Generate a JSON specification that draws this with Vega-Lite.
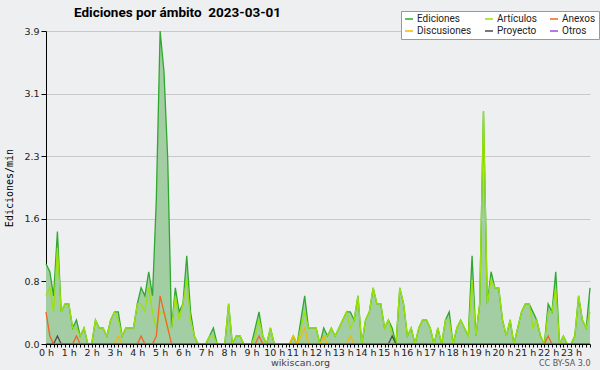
{
"$schema": "https://vega.github.io/schema/vega-lite/v6.json",
"width": 544,
"height": 313,
"autosize": {"type": "none"},
"padding": {"left": 46, "top": 31, "right": 10, "bottom": 26},
"background": "#eeeff0",
"config": {"view": {"stroke": null}, "font": "DejaVu Sans"},
"title": {"text": "Ediciones por ámbito \u00a02023-03-01", "anchor": "start", "frame": "group", "dx": 28, "dy": 19, "font": "Roboto", "fontWeight": "bold", "fontSize": 13.5, "color": "#000", "offset": 10},
"data": {"values": [
{"m":0,"Ediciones":1.0,"Artículos":0.6,"Anexos":0.4,"Discusiones":0,"Proyecto":0,"Otros":0},
{"m":10,"Ediciones":0.9,"Artículos":0.7,"Anexos":0.1,"Discusiones":0,"Proyecto":0,"Otros":0},
{"m":20,"Ediciones":0.6,"Artículos":0.4,"Anexos":0,"Discusiones":0,"Proyecto":0,"Otros":0},
{"m":30,"Ediciones":1.4,"Artículos":1.2,"Anexos":0,"Discusiones":0,"Proyecto":0.1,"Otros":0},
{"m":40,"Ediciones":0.4,"Artículos":0.4,"Anexos":0,"Discusiones":0,"Proyecto":0,"Otros":0},
{"m":50,"Ediciones":0.5,"Artículos":0.5,"Anexos":0,"Discusiones":0,"Proyecto":0,"Otros":0},
{"m":60,"Ediciones":0.5,"Artículos":0.5,"Anexos":0,"Discusiones":0,"Proyecto":0,"Otros":0},
{"m":70,"Ediciones":0.2,"Artículos":0.2,"Anexos":0,"Discusiones":0,"Proyecto":0,"Otros":0},
{"m":80,"Ediciones":0.3,"Artículos":0.2,"Anexos":0.1,"Discusiones":0,"Proyecto":0,"Otros":0},
{"m":90,"Ediciones":0.1,"Artículos":0.1,"Anexos":0,"Discusiones":0,"Proyecto":0,"Otros":0},
{"m":100,"Ediciones":0.2,"Artículos":0.2,"Anexos":0,"Discusiones":0,"Proyecto":0,"Otros":0},
{"m":110,"Ediciones":0,"Artículos":0,"Anexos":0,"Discusiones":0,"Proyecto":0,"Otros":0},
{"m":120,"Ediciones":0,"Artículos":0,"Anexos":0,"Discusiones":0,"Proyecto":0,"Otros":0},
{"m":130,"Ediciones":0.3,"Artículos":0.3,"Anexos":0,"Discusiones":0,"Proyecto":0,"Otros":0},
{"m":140,"Ediciones":0.2,"Artículos":0.2,"Anexos":0,"Discusiones":0,"Proyecto":0,"Otros":0},
{"m":150,"Ediciones":0.2,"Artículos":0.2,"Anexos":0,"Discusiones":0,"Proyecto":0,"Otros":0},
{"m":160,"Ediciones":0.1,"Artículos":0.1,"Anexos":0,"Discusiones":0,"Proyecto":0,"Otros":0},
{"m":170,"Ediciones":0.3,"Artículos":0.3,"Anexos":0,"Discusiones":0,"Proyecto":0,"Otros":0},
{"m":180,"Ediciones":0.4,"Artículos":0.4,"Anexos":0,"Discusiones":0,"Proyecto":0,"Otros":0},
{"m":190,"Ediciones":0.4,"Artículos":0.3,"Anexos":0,"Discusiones":0.1,"Proyecto":0,"Otros":0},
{"m":200,"Ediciones":0.1,"Artículos":0.1,"Anexos":0,"Discusiones":0,"Proyecto":0,"Otros":0},
{"m":210,"Ediciones":0.2,"Artículos":0.2,"Anexos":0,"Discusiones":0,"Proyecto":0,"Otros":0},
{"m":220,"Ediciones":0.2,"Artículos":0.2,"Anexos":0,"Discusiones":0,"Proyecto":0,"Otros":0},
{"m":230,"Ediciones":0.2,"Artículos":0.2,"Anexos":0,"Discusiones":0,"Proyecto":0,"Otros":0},
{"m":240,"Ediciones":0.5,"Artículos":0.5,"Anexos":0,"Discusiones":0,"Proyecto":0,"Otros":0},
{"m":250,"Ediciones":0.7,"Artículos":0.5,"Anexos":0.1,"Discusiones":0,"Proyecto":0,"Otros":0},
{"m":260,"Ediciones":0.6,"Artículos":0.4,"Anexos":0,"Discusiones":0,"Proyecto":0,"Otros":0},
{"m":270,"Ediciones":0.9,"Artículos":0.7,"Anexos":0,"Discusiones":0,"Proyecto":0,"Otros":0},
{"m":280,"Ediciones":0.6,"Artículos":0.4,"Anexos":0,"Discusiones":0,"Proyecto":0,"Otros":0},
{"m":290,"Ediciones":1.8,"Artículos":0.2,"Anexos":0.1,"Discusiones":0,"Proyecto":0,"Otros":0},
{"m":300,"Ediciones":3.9,"Artículos":0.4,"Anexos":0.6,"Discusiones":0,"Proyecto":0,"Otros":0},
{"m":310,"Ediciones":3.4,"Artículos":0.4,"Anexos":0.4,"Discusiones":0,"Proyecto":0,"Otros":0},
{"m":320,"Ediciones":2.3,"Artículos":0.2,"Anexos":0.2,"Discusiones":0,"Proyecto":0,"Otros":0},
{"m":330,"Ediciones":0.2,"Artículos":0.2,"Anexos":0,"Discusiones":0,"Proyecto":0,"Otros":0},
{"m":340,"Ediciones":0.7,"Artículos":0.6,"Anexos":0,"Discusiones":0,"Proyecto":0,"Otros":0},
{"m":350,"Ediciones":0.4,"Artículos":0.3,"Anexos":0,"Discusiones":0,"Proyecto":0,"Otros":0},
{"m":360,"Ediciones":0.5,"Artículos":0.5,"Anexos":0,"Discusiones":0,"Proyecto":0,"Otros":0},
{"m":370,"Ediciones":1.1,"Artículos":0.8,"Anexos":0,"Discusiones":0,"Proyecto":0,"Otros":0},
{"m":380,"Ediciones":0.4,"Artículos":0.3,"Anexos":0,"Discusiones":0,"Proyecto":0,"Otros":0},
{"m":390,"Ediciones":0.1,"Artículos":0.1,"Anexos":0,"Discusiones":0,"Proyecto":0,"Otros":0},
{"m":400,"Ediciones":0,"Artículos":0,"Anexos":0,"Discusiones":0,"Proyecto":0,"Otros":0},
{"m":410,"Ediciones":0,"Artículos":0,"Anexos":0,"Discusiones":0,"Proyecto":0,"Otros":0},
{"m":420,"Ediciones":0,"Artículos":0,"Anexos":0,"Discusiones":0,"Proyecto":0,"Otros":0},
{"m":430,"Ediciones":0.1,"Artículos":0.1,"Anexos":0,"Discusiones":0,"Proyecto":0,"Otros":0},
{"m":440,"Ediciones":0.2,"Artículos":0.1,"Anexos":0,"Discusiones":0,"Proyecto":0,"Otros":0},
{"m":450,"Ediciones":0,"Artículos":0,"Anexos":0,"Discusiones":0,"Proyecto":0,"Otros":0},
{"m":460,"Ediciones":0,"Artículos":0,"Anexos":0,"Discusiones":0,"Proyecto":0,"Otros":0},
{"m":470,"Ediciones":0,"Artículos":0,"Anexos":0,"Discusiones":0,"Proyecto":0,"Otros":0},
{"m":480,"Ediciones":0.5,"Artículos":0.5,"Anexos":0,"Discusiones":0,"Proyecto":0,"Otros":0},
{"m":490,"Ediciones":0,"Artículos":0,"Anexos":0,"Discusiones":0,"Proyecto":0,"Otros":0},
{"m":500,"Ediciones":0.1,"Artículos":0.1,"Anexos":0,"Discusiones":0,"Proyecto":0,"Otros":0},
{"m":510,"Ediciones":0.1,"Artículos":0.1,"Anexos":0,"Discusiones":0,"Proyecto":0,"Otros":0},
{"m":520,"Ediciones":0,"Artículos":0,"Anexos":0,"Discusiones":0,"Proyecto":0,"Otros":0},
{"m":530,"Ediciones":0,"Artículos":0,"Anexos":0,"Discusiones":0,"Proyecto":0,"Otros":0},
{"m":540,"Ediciones":0,"Artículos":0,"Anexos":0,"Discusiones":0,"Proyecto":0,"Otros":0},
{"m":550,"Ediciones":0.2,"Artículos":0.1,"Anexos":0,"Discusiones":0,"Proyecto":0,"Otros":0},
{"m":560,"Ediciones":0.4,"Artículos":0.3,"Anexos":0.1,"Discusiones":0,"Proyecto":0,"Otros":0},
{"m":570,"Ediciones":0.1,"Artículos":0.1,"Anexos":0,"Discusiones":0,"Proyecto":0,"Otros":0},
{"m":580,"Ediciones":0,"Artículos":0,"Anexos":0,"Discusiones":0,"Proyecto":0,"Otros":0},
{"m":590,"Ediciones":0.2,"Artículos":0.2,"Anexos":0,"Discusiones":0,"Proyecto":0,"Otros":0},
{"m":600,"Ediciones":0,"Artículos":0,"Anexos":0,"Discusiones":0,"Proyecto":0,"Otros":0},
{"m":610,"Ediciones":0,"Artículos":0,"Anexos":0,"Discusiones":0,"Proyecto":0,"Otros":0},
{"m":620,"Ediciones":0,"Artículos":0,"Anexos":0,"Discusiones":0,"Proyecto":0,"Otros":0},
{"m":630,"Ediciones":0,"Artículos":0,"Anexos":0,"Discusiones":0,"Proyecto":0,"Otros":0},
{"m":640,"Ediciones":0,"Artículos":0,"Anexos":0,"Discusiones":0,"Proyecto":0,"Otros":0},
{"m":650,"Ediciones":0.1,"Artículos":0.1,"Anexos":0,"Discusiones":0.1,"Proyecto":0,"Otros":0},
{"m":660,"Ediciones":0,"Artículos":0,"Anexos":0,"Discusiones":0,"Proyecto":0,"Otros":0},
{"m":670,"Ediciones":0.3,"Artículos":0.2,"Anexos":0,"Discusiones":0.1,"Proyecto":0,"Otros":0},
{"m":680,"Ediciones":0.6,"Artículos":0.4,"Anexos":0,"Discusiones":0.2,"Proyecto":0,"Otros":0},
{"m":690,"Ediciones":0.2,"Artículos":0.2,"Anexos":0,"Discusiones":0,"Proyecto":0,"Otros":0},
{"m":700,"Ediciones":0.2,"Artículos":0.2,"Anexos":0,"Discusiones":0,"Proyecto":0,"Otros":0},
{"m":710,"Ediciones":0.2,"Artículos":0.2,"Anexos":0,"Discusiones":0,"Proyecto":0,"Otros":0},
{"m":720,"Ediciones":0,"Artículos":0,"Anexos":0,"Discusiones":0,"Proyecto":0,"Otros":0},
{"m":730,"Ediciones":0.2,"Artículos":0.1,"Anexos":0,"Discusiones":0.1,"Proyecto":0,"Otros":0},
{"m":740,"Ediciones":0.1,"Artículos":0.1,"Anexos":0,"Discusiones":0,"Proyecto":0,"Otros":0},
{"m":750,"Ediciones":0.2,"Artículos":0.2,"Anexos":0,"Discusiones":0,"Proyecto":0,"Otros":0},
{"m":760,"Ediciones":0.1,"Artículos":0.1,"Anexos":0,"Discusiones":0,"Proyecto":0,"Otros":0},
{"m":770,"Ediciones":0.2,"Artículos":0.2,"Anexos":0,"Discusiones":0,"Proyecto":0,"Otros":0},
{"m":780,"Ediciones":0.3,"Artículos":0.3,"Anexos":0,"Discusiones":0,"Proyecto":0,"Otros":0},
{"m":790,"Ediciones":0.4,"Artículos":0.4,"Anexos":0,"Discusiones":0,"Proyecto":0,"Otros":0},
{"m":800,"Ediciones":0.4,"Artículos":0.2,"Anexos":0,"Discusiones":0.1,"Proyecto":0,"Otros":0},
{"m":810,"Ediciones":0.3,"Artículos":0.3,"Anexos":0,"Discusiones":0,"Proyecto":0,"Otros":0},
{"m":820,"Ediciones":0.6,"Artículos":0.6,"Anexos":0,"Discusiones":0,"Proyecto":0,"Otros":0},
{"m":830,"Ediciones":0,"Artículos":0,"Anexos":0,"Discusiones":0,"Proyecto":0,"Otros":0},
{"m":840,"Ediciones":0.3,"Artículos":0.3,"Anexos":0,"Discusiones":0,"Proyecto":0,"Otros":0},
{"m":850,"Ediciones":0.4,"Artículos":0.4,"Anexos":0,"Discusiones":0,"Proyecto":0,"Otros":0},
{"m":860,"Ediciones":0.7,"Artículos":0.7,"Anexos":0,"Discusiones":0,"Proyecto":0,"Otros":0},
{"m":870,"Ediciones":0.5,"Artículos":0.5,"Anexos":0,"Discusiones":0,"Proyecto":0,"Otros":0},
{"m":880,"Ediciones":0.5,"Artículos":0.5,"Anexos":0,"Discusiones":0,"Proyecto":0,"Otros":0},
{"m":890,"Ediciones":0.2,"Artículos":0.2,"Anexos":0,"Discusiones":0,"Proyecto":0,"Otros":0},
{"m":900,"Ediciones":0.3,"Artículos":0.3,"Anexos":0,"Discusiones":0,"Proyecto":0,"Otros":0},
{"m":910,"Ediciones":0.2,"Artículos":0.1,"Anexos":0,"Discusiones":0,"Proyecto":0.1,"Otros":0},
{"m":920,"Ediciones":0,"Artículos":0,"Anexos":0,"Discusiones":0,"Proyecto":0,"Otros":0},
{"m":930,"Ediciones":0.7,"Artículos":0.7,"Anexos":0,"Discusiones":0,"Proyecto":0,"Otros":0},
{"m":940,"Ediciones":0.5,"Artículos":0.5,"Anexos":0,"Discusiones":0,"Proyecto":0,"Otros":0},
{"m":950,"Ediciones":0.1,"Artículos":0.1,"Anexos":0,"Discusiones":0,"Proyecto":0,"Otros":0},
{"m":960,"Ediciones":0.2,"Artículos":0.2,"Anexos":0,"Discusiones":0,"Proyecto":0,"Otros":0},
{"m":970,"Ediciones":0,"Artículos":0,"Anexos":0,"Discusiones":0,"Proyecto":0,"Otros":0},
{"m":980,"Ediciones":0.2,"Artículos":0.2,"Anexos":0,"Discusiones":0,"Proyecto":0,"Otros":0},
{"m":990,"Ediciones":0.3,"Artículos":0.3,"Anexos":0,"Discusiones":0,"Proyecto":0,"Otros":0},
{"m":1000,"Ediciones":0.3,"Artículos":0.3,"Anexos":0,"Discusiones":0,"Proyecto":0,"Otros":0},
{"m":1010,"Ediciones":0.2,"Artículos":0.2,"Anexos":0,"Discusiones":0,"Proyecto":0,"Otros":0},
{"m":1020,"Ediciones":0,"Artículos":0,"Anexos":0,"Discusiones":0,"Proyecto":0,"Otros":0},
{"m":1030,"Ediciones":0.2,"Artículos":0.2,"Anexos":0,"Discusiones":0,"Proyecto":0,"Otros":0},
{"m":1040,"Ediciones":0,"Artículos":0,"Anexos":0,"Discusiones":0,"Proyecto":0,"Otros":0},
{"m":1050,"Ediciones":0.3,"Artículos":0.3,"Anexos":0,"Discusiones":0,"Proyecto":0,"Otros":0},
{"m":1060,"Ediciones":0.4,"Artículos":0.3,"Anexos":0,"Discusiones":0,"Proyecto":0,"Otros":0},
{"m":1070,"Ediciones":0,"Artículos":0,"Anexos":0,"Discusiones":0,"Proyecto":0,"Otros":0},
{"m":1080,"Ediciones":0.2,"Artículos":0.2,"Anexos":0,"Discusiones":0,"Proyecto":0,"Otros":0},
{"m":1090,"Ediciones":0.3,"Artículos":0.3,"Anexos":0,"Discusiones":0,"Proyecto":0,"Otros":0},
{"m":1100,"Ediciones":0.2,"Artículos":0.2,"Anexos":0,"Discusiones":0,"Proyecto":0,"Otros":0},
{"m":1110,"Ediciones":0.1,"Artículos":0.1,"Anexos":0,"Discusiones":0,"Proyecto":0,"Otros":0},
{"m":1120,"Ediciones":1.1,"Artículos":0.8,"Anexos":0,"Discusiones":0,"Proyecto":0,"Otros":0},
{"m":1130,"Ediciones":0.1,"Artículos":0.1,"Anexos":0,"Discusiones":0,"Proyecto":0,"Otros":0},
{"m":1140,"Ediciones":0.5,"Artículos":0.5,"Anexos":0,"Discusiones":0,"Proyecto":0,"Otros":0},
{"m":1150,"Ediciones":2.9,"Artículos":2.9,"Anexos":0,"Discusiones":0,"Proyecto":0,"Otros":0},
{"m":1160,"Ediciones":0.5,"Artículos":0.5,"Anexos":0,"Discusiones":0,"Proyecto":0,"Otros":0},
{"m":1170,"Ediciones":0.9,"Artículos":0.8,"Anexos":0,"Discusiones":0,"Proyecto":0,"Otros":0},
{"m":1180,"Ediciones":0.7,"Artículos":0.7,"Anexos":0,"Discusiones":0,"Proyecto":0,"Otros":0},
{"m":1190,"Ediciones":0.7,"Artículos":0.7,"Anexos":0,"Discusiones":0,"Proyecto":0,"Otros":0},
{"m":1200,"Ediciones":0.3,"Artículos":0.3,"Anexos":0,"Discusiones":0,"Proyecto":0,"Otros":0},
{"m":1210,"Ediciones":0.1,"Artículos":0.1,"Anexos":0,"Discusiones":0,"Proyecto":0,"Otros":0},
{"m":1220,"Ediciones":0.3,"Artículos":0.3,"Anexos":0,"Discusiones":0,"Proyecto":0,"Otros":0},
{"m":1230,"Ediciones":0,"Artículos":0,"Anexos":0,"Discusiones":0,"Proyecto":0,"Otros":0},
{"m":1240,"Ediciones":0.2,"Artículos":0.2,"Anexos":0,"Discusiones":0,"Proyecto":0,"Otros":0},
{"m":1250,"Ediciones":0.4,"Artículos":0.4,"Anexos":0,"Discusiones":0,"Proyecto":0,"Otros":0},
{"m":1260,"Ediciones":0.5,"Artículos":0.5,"Anexos":0,"Discusiones":0,"Proyecto":0,"Otros":0},
{"m":1270,"Ediciones":0.5,"Artículos":0.5,"Anexos":0,"Discusiones":0,"Proyecto":0,"Otros":0},
{"m":1280,"Ediciones":0.4,"Artículos":0.2,"Anexos":0,"Discusiones":0,"Proyecto":0,"Otros":0},
{"m":1290,"Ediciones":0.3,"Artículos":0.3,"Anexos":0,"Discusiones":0,"Proyecto":0,"Otros":0},
{"m":1300,"Ediciones":0.1,"Artículos":0.1,"Anexos":0,"Discusiones":0,"Proyecto":0,"Otros":0},
{"m":1310,"Ediciones":0,"Artículos":0,"Anexos":0,"Discusiones":0,"Proyecto":0,"Otros":0},
{"m":1320,"Ediciones":0.5,"Artículos":0.4,"Anexos":0.1,"Discusiones":0,"Proyecto":0,"Otros":0},
{"m":1330,"Ediciones":0.4,"Artículos":0.4,"Anexos":0,"Discusiones":0,"Proyecto":0,"Otros":0},
{"m":1340,"Ediciones":0.9,"Artículos":0.7,"Anexos":0,"Discusiones":0,"Proyecto":0,"Otros":0},
{"m":1350,"Ediciones":0,"Artículos":0,"Anexos":0,"Discusiones":0,"Proyecto":0,"Otros":0},
{"m":1360,"Ediciones":0.1,"Artículos":0.1,"Anexos":0,"Discusiones":0,"Proyecto":0,"Otros":0},
{"m":1370,"Ediciones":0,"Artículos":0,"Anexos":0,"Discusiones":0,"Proyecto":0,"Otros":0},
{"m":1380,"Ediciones":0,"Artículos":0,"Anexos":0,"Discusiones":0,"Proyecto":0,"Otros":0},
{"m":1390,"Ediciones":0.1,"Artículos":0.1,"Anexos":0,"Discusiones":0,"Proyecto":0,"Otros":0},
{"m":1400,"Ediciones":0.6,"Artículos":0.6,"Anexos":0,"Discusiones":0,"Proyecto":0,"Otros":0},
{"m":1410,"Ediciones":0.3,"Artículos":0.3,"Anexos":0,"Discusiones":0,"Proyecto":0,"Otros":0},
{"m":1420,"Ediciones":0.2,"Artículos":0.2,"Anexos":0,"Discusiones":0,"Proyecto":0,"Otros":0},
{"m":1430,"Ediciones":0.7,"Artículos":0.4,"Anexos":0,"Discusiones":0,"Proyecto":0,"Otros":0}
]},
"resolve": {"axis": {"x": "independent"}},
"layer": [
{
"mark": {"type": "area", "color": "#a3cea3", "opacity": 1},
"encoding": {
"x": {"field": "m", "type": "quantitative", "scale": {"domain": [0, 1430], "nice": false, "zero": false},
"axis": {"values": [0,10,20,30,40,50,60,70,80,90,100,110,120,130,140,150,160,170,180,190,200,210,220,230,240,250,260,270,280,290,300,310,320,330,340,350,360,370,380,390,400,410,420,430,440,450,460,470,480,490,500,510,520,530,540,550,560,570,580,590,600,610,620,630,640,650,660,670,680,690,700,710,720,730,740,750,760,770,780,790,800,810,820,830,840,850,860,870,880,890,900,910,920,930,940,950,960,970,980,990,1000,1010,1020,1030,1040,1050,1060,1070,1080,1090,1100,1110,1120,1130,1140,1150,1160,1170,1180,1190,1200,1210,1220,1230,1240,1250,1260,1270,1280,1290,1300,1310,1320,1330,1340,1350,1360,1370,1380,1390,1400,1410,1420,1430],
"labelExpr": "datum.value % 60 == 0 ? (datum.value / 60) + ' h' : ''",
"labelOverlap": false, "labelFlush": false, "labelFont": "DejaVu Sans", "labelFontSize": 9.5, "labelColor": "#222", "labelPadding": 0,
"tickSize": 3, "tickColor": "#000", "domainColor": "#000", "grid": false, "zindex": 1,
"title": "wikiscan.org", "titleFont": "DejaVu Sans", "titleFontWeight": "normal", "titleFontSize": 9.5, "titleColor": "#444", "titleX": 254, "titleY": 21, "titleBaseline": "alphabetic", "titleAnchor": "middle", "titleAlign": "center"}},
"y": {"field": "Ediciones", "type": "quantitative", "scale": {"domain": [0, 3.9], "nice": false},
"axis": {"values": [0,0.195,0.39,0.585,0.78,0.975,1.17,1.365,1.56,1.755,1.95,2.145,2.34,2.535,2.73,2.925,3.12,3.315,3.51,3.705,3.9],
"labelExpr": "abs(datum.value / 0.78 - round(datum.value / 0.78)) < 0.01 ? format(datum.value, '.1f') : ''",
"labelFont": "DejaVu Sans", "labelFontSize": 9.5, "labelColor": "#222", "labelPadding": 2, "labelOverlap": false,
"tickSize": 5, "tickColor": "#000", "domainColor": "#000",
"grid": true, "gridColor": "#c8c8c8", "gridOpacity": {"condition": {"test": "abs(datum.value / 0.78 - round(datum.value / 0.78)) < 0.01 && datum.value > 0", "value": 1}, "value": 0},
"title": "Ediciones/min", "titleFont": "DejaVu Sans Mono", "titleFontWeight": "normal", "titleFontSize": 10, "titleColor": "#000", "titleX": -32}}
}
},
{
"transform": [{"fold": ["Ediciones", "Artículos", "Anexos", "Discusiones", "Proyecto", "Otros"], "as": ["serie", "v"]}],
"mark": {"type": "line", "strokeWidth": 1.3},
"encoding": {
"x": {"field": "m", "type": "quantitative",
"axis": {"orient": "bottom", "labels": false, "ticks": false, "domain": false, "grid": false, "title": "CC BY-SA 3.0", "titleFont": "DejaVu Sans", "titleFontWeight": "normal", "titleFontSize": 8, "titleColor": "#555", "titleX": 544, "titleY": 21, "titleAlign": "right", "titleAnchor": "end", "titleBaseline": "alphabetic"}},
"y": {"field": "v", "type": "quantitative", "title": "Ediciones/min"},
"color": {"field": "serie", "type": "nominal",
"scale": {"domain": ["Ediciones", "Artículos", "Anexos", "Discusiones", "Proyecto", "Otros"], "range": ["#2ea82e", "#9ae20a", "#f26522", "#f5b800", "#4d4d4d", "#9b4de0"]},
"legend": {"orient": "none", "legendX": 355, "legendY": -20, "direction": "horizontal", "columns": 3, "title": null, "symbolType": "stroke", "symbolSize": 64, "symbolStrokeWidth": 1.5, "labelFont": "Roboto", "labelFontSize": 10, "labelColor": "#222", "fillColor": "#ffffff", "strokeColor": "#999999", "padding": 3, "columnPadding": 10, "rowPadding": 2, "labelOffset": 3}}
}
}
]
}
